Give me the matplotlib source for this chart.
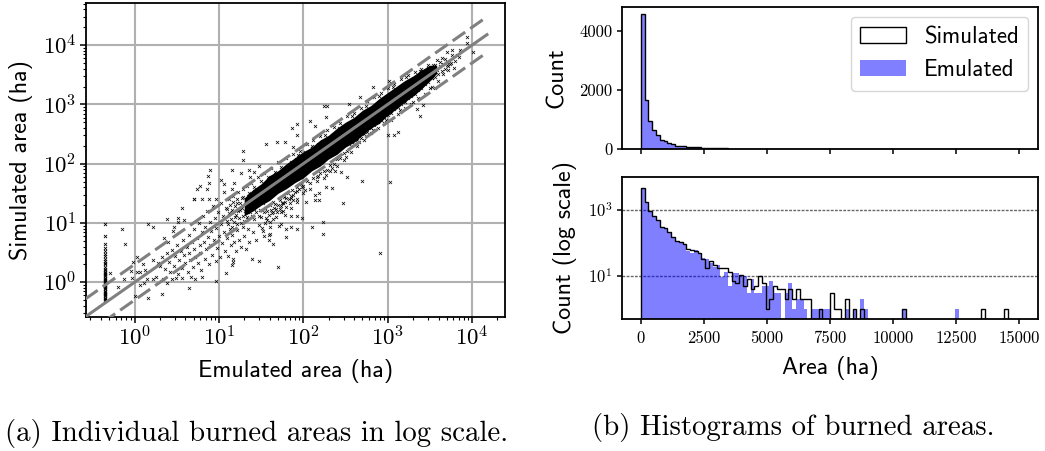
import numpy as np
import matplotlib
matplotlib.use("Agg")
import matplotlib.pyplot as plt
from matplotlib.ticker import LogLocator, NullFormatter, FixedLocator

plt.rcParams['mathtext.fontset'] = 'cm'
plt.rcParams['axes.unicode_minus'] = False

# ---- scatter: values, as log10(ha) pairs
outlier_pairs = [
 (3.03,1.69),(2.69,1.71),(2.52,1.77),(2.47,1.34),(2.91,.495),(1.70,.25),(2.23,1.01),(2.23,.82),(2.10,.93),(1.92,.89),
 (1.85,.93),(1.795,.89),(1.79,.77),(1.74,.98),(1.71,.945),(1.60,.93),(1.605,.81),(1.59,.79),(1.53,.78),(1.59,.71),
 (1.635,.65),(1.51,.92),(1.99,1.09),(2.03,1.36),(2.14,1.385),(2.19,1.385),(2.19,1.51),(2.14,1.47),(2.27,1.61),(2.34,1.59),
 (2.45,1.86),(2.38,1.88),(2.265,1.81),(1.93,1.36),(1.88,1.385),(1.86,1.26),(1.92,1.115),(1.86,1.115),(1.78,1.14),(1.76,1.33),
 (1.80,1.27),(1.73,1.19),(1.685,1.19),(1.625,1.16),(1.565,1.05),(1.645,1.06),(1.545,1.00),
 (4.007,3.89),(3.94,4.13),(3.935,4.03),(3.86,3.92),(3.765,3.92),(3.70,3.89),(3.82,3.83),(3.76,3.83),(3.70,3.665),
 (3.64,3.78),(3.58,3.75),(3.54,3.665),(3.48,3.665),(3.52,3.44),(3.50,3.27),(3.56,3.27),(3.42,2.99),(3.35,2.92),(3.38,2.80),
 (3.12,2.53),(3.07,2.49),(3.00,2.49),(3.02,3.395),(2.83,3.29),(2.67,3.13),(2.545,3.01),(2.28,2.97),(2.24,2.97),(2.27,2.78),
 (2.08,2.725),(2.14,2.635),(1.93,2.67),(1.87,2.60),(1.56,2.33),(1.685,2.37),(1.78,2.36),(1.88,2.285),(1.92,2.48),
 (1.28,2.22),(1.29,2.07),(1.15,1.90),(.90,1.90),(.875,1.80),(.88,1.68),(.78,1.63),(.74,1.57),(.86,1.58),(1.03,1.72),
 (1.06,1.65),(1.18,1.67),(1.06,1.53),(1.15,1.58),(1.26,1.84),(1.36,1.89),(1.37,1.78),(.705,1.40),(.80,1.40),(.88,1.40),
 (.97,1.41),(1.41,1.86),(1.47,1.96),
 (-.145,.89),(-.11,.64),(.155,.975),(.22,.925),(.38,1.06),(.51,1.02),(.52,1.09),(.59,1.05),(.56,1.26),(.71,1.40),
 (.47,.925),(.35,.75),(.46,.86),(.40,.68),(.03,.43),(-.015,.34),(.22,.38),(.10,.30),(.28,.32),(-.29,.16),
 (-.19,-.08),(-.13,.05),(-.04,.185),(-.026,.08),(.026,.165),(.065,.165),(.13,.20),(.145,.06),(.065,-.05),(.115,-.02),
 (.155,-.26),(0,-.24),(.32,-.20),(.64,-.09),(.22,.06),(.26,.09),(.34,.06),(.38,-.02),(.44,.06),(.49,.08),
 (.56,.08),(.665,.09),(.72,.06),(.80,.09),(.97,.02),(1.08,.15),(1.16,.29),(1.17,.34),(1.17,.40),(1.395,.40),(1.47,.36),
]
transition_pairs = [
 (.30,.28),(.33,.42),(.36,.22),(.38,.50),(.41,.35),(.42,.18),(.44,.55),(.47,.27),(.48,.44),(.50,.62),
 (.51,.14),(.53,.38),(.55,.52),(.56,.24),(.58,.72),(.59,.46),(.60,.33),(.62,.60),(.63,.18),(.64,.80),
 (.65,.50),(.66,.38),(.68,.68),(.69,.26),(.70,.90),(.71,.56),(.72,.42),(.74,.74),(.75,.32),(.76,1.00),
 (.77,.62),(.78,.50),(.79,.20),(.80,.84),(.81,1.12),(.82,.68),(.83,.40),(.84,.94),(.85,.56),(.86,1.20),
 (.87,.76),(.88,.30),(.89,1.02),(.90,.62),(.91,.86),(.92,.46),(.93,1.28),(.94,.72),(.95,1.08),(.96,.36),
 (.97,.92),(.98,.58),(.99,1.18),(1.00,.78),(1.01,.42),(1.02,1.34),(1.03,.98),(1.04,.66),(1.05,1.12),(1.06,.84),
 (1.07,.52),(1.08,1.26),(1.09,.74),(1.10,1.04),(1.11,.44),(1.12,1.40),(1.13,.90),(1.14,.62),(1.15,1.18),(1.16,.80),
 (1.17,1.46),(1.18,.68),(1.19,1.10),(1.20,.52),(1.21,1.34),(1.22,.88),(1.23,1.52),(1.24,.72),(1.25,1.22),(1.26,.60),
 (1.27,1.42),(1.28,.94),(1.29,1.58),(1.30,.78),(1.31,1.32),(1.32,.56),(1.33,1.62),(1.34,.90),(1.35,1.46),(1.36,.68),
 (1.38,1.68),(1.40,.84),(1.42,1.60),(1.44,.72),(1.46,1.78),(1.48,.96),(1.50,1.70),(1.52,.86),(1.54,1.84),(1.56,1.08),
 (1.58,1.78),(1.60,1.02),(1.62,1.92),(1.64,1.18),(1.66,1.86),(1.68,1.10),(1.70,2.02),(1.72,1.24),(1.74,1.94),(1.76,1.20),
]
fringe_pairs = [
 (1.80,2.10),(1.84,1.34),(1.88,2.16),(1.92,1.40),(1.96,2.22),(2.00,1.50),(2.04,2.34),(2.08,1.58),(2.12,2.40),(2.16,1.70),
 (2.20,2.46),(2.24,1.76),(2.28,2.56),(2.32,1.88),(2.36,2.62),(2.40,1.96),(2.44,2.68),(2.48,2.06),(2.52,2.80),(2.56,2.20),
 (2.60,2.86),(2.64,2.30),(2.68,2.94),(2.72,2.40),(2.76,3.06),(2.80,2.52),(2.84,3.12),(2.88,2.60),(2.92,3.20),(2.96,2.68),
 (3.00,3.28),(3.04,2.74),(3.08,3.34),(3.12,2.84),(3.16,3.42),(3.20,2.94),(3.24,3.50),(3.28,3.00),(3.32,3.54),(3.36,3.10),
 (3.40,3.60),(3.44,3.18),(3.48,3.62),(3.52,3.30),(3.56,3.66),(3.60,3.40),(3.62,3.72),(3.66,3.52),(3.68,3.76),(3.72,3.58),
 (3.75,3.70),(3.78,3.62),(3.80,3.74),(3.84,3.80),
 (1.86,1.42),(1.94,2.14),(2.02,1.56),(2.10,2.30),(2.18,1.80),(2.26,2.48),(2.34,1.92),(2.42,2.60),(2.50,2.12),(2.58,2.80),
 (2.66,2.36),(2.74,2.98),(2.82,2.56),(2.90,3.14),(2.98,2.74),(3.06,3.30),(3.14,2.90),(3.22,3.46),(3.30,3.04),(3.38,3.56),
]
# points thickening the inner edges of the cloud, where marks overlap but do not saturate
edge_pairs = [
 (1.10,1.24),(1.11,.98),(1.12,1.16),(1.13,1.30),(1.14,1.06),(1.15,.94),(1.16,1.22),(1.17,1.36),(1.18,1.02),(1.19,1.28),
 (1.20,1.14),(1.21,.98),(1.22,1.40),(1.23,1.20),(1.24,1.08),(1.25,1.34),(1.26,1.00),(1.27,1.26),(1.28,1.12),(1.29,1.44),
 (1.30,1.04),(1.31,1.20),(1.32,1.38),(1.33,1.10),(1.34,1.28),(1.35,1.06),(1.36,1.50),(1.37,1.18),(1.38,1.36),(1.39,1.12),
 (1.40,1.46),(1.41,1.24),(1.42,1.06),(1.43,1.40),(1.44,1.18),(1.45,1.56),(1.46,1.30),(1.47,1.12),(1.48,1.48),(1.49,1.22),
 (1.50,1.10),(1.51,1.60),(1.52,1.34),(1.53,1.18),(1.54,1.52),(1.55,1.26),(1.56,1.66),(1.57,1.20),(1.58,1.42),(1.59,1.14),
 (1.60,1.72),(1.61,1.30),(1.62,1.22),(1.63,1.68),(1.64,1.36),(1.65,1.26),(1.66,1.76),(1.67,1.32),(1.68,1.24),(1.69,1.70),
 (1.70,1.30),(1.71,1.84),(1.72,1.38),(1.73,1.28),(1.74,1.80),(1.75,1.34),(1.76,1.90),(1.77,1.44),(1.78,1.36),(1.79,1.86),
 (1.80,1.42),(1.81,1.96),(1.82,1.50),(1.83,1.40),(1.84,1.92),(1.85,1.46),(1.86,2.02),(1.87,1.56),(1.88,1.48),(1.89,1.98),
 (1.90,1.52),(1.91,2.08),(1.92,1.60),(1.93,1.54),(1.94,2.04),(1.95,1.58),(1.96,2.14),(1.97,1.66),(1.98,1.60),(1.99,2.10),
 (2.00,1.62),(2.02,2.20),(2.04,1.70),(2.06,2.16),(2.08,1.68),(2.10,2.26),(2.12,1.76),(2.14,2.22),(2.16,1.78),(2.18,2.34),
 (2.20,1.84),(2.22,2.30),(2.24,1.88),(2.26,2.40),(2.28,1.90),(2.30,2.38),(2.32,1.98),(2.34,2.48),(2.36,2.00),(2.38,2.44),
 (2.40,2.08),(2.42,2.54),(2.44,2.10),(2.46,2.52),(2.48,2.18),(2.50,2.62),(2.52,2.22),(2.54,2.60),(2.56,2.30),(2.58,2.70),
 (2.60,2.34),(2.62,2.68),(2.64,2.40),(2.66,2.78),(2.68,2.44),(2.70,2.76),(2.72,2.50),(2.74,2.86),(2.76,2.54),(2.78,2.84),
 (2.80,2.60),(2.82,2.94),(2.84,2.66),(2.86,2.92),(2.88,2.70),(2.90,3.02),(2.92,2.74),(2.94,3.00),(2.96,2.78),(2.98,3.10),
 (3.00,2.82),(3.02,3.08),(3.04,2.86),(3.06,3.18),(3.08,2.92),(3.10,3.16),(3.12,2.96),(3.14,3.26),(3.16,3.00),(3.18,3.24),
 (3.20,3.04),(3.22,3.34),(3.24,3.10),(3.26,3.32),(3.28,3.14),(3.30,3.42),(3.32,3.18),(3.34,3.40),(3.36,3.24),(3.38,3.48),
 (3.40,3.28),(3.42,3.46),(3.44,3.34),(3.46,3.54),(3.48,3.38),(3.50,3.52),(3.52,3.44),(3.54,3.60),(3.56,3.46),(3.58,3.58),
 (3.60,3.52),(3.62,3.64),(3.64,3.56),(3.66,3.68),(3.68,3.60),(3.70,3.72),(3.72,3.64),(3.74,3.68),
]
# the vertical column of fires with the smallest emulated area
column_x_log10 = -0.346
column_y_log10 = [-.30,-.28,-.26,-.24,-.22,-.20,-.18,-.16,-.14,-.12,-.10,-.08,-.06,-.04,-.02,0,.02,.04,.06,.08,.10,
                  .12,.14,.16,.18,.20,.23,.26,.30,.33,.36,.40,.44,.48,.53,.58,.64,.78,.975]
# saturated core of the cloud, drawn as an envelope (too dense to read as separate points)
core_x_log10 = [1.30,1.40,1.50,1.60,1.70,1.80,1.90,2.00,2.10,2.20,2.30,2.40,2.50,2.60,2.70,2.80,2.90,3.00,3.10,3.20,3.30,3.40,3.50,3.58]
core_lo_log10 = [1.12,1.20,1.30,1.38,1.50,1.58,1.68,1.76,1.88,1.96,2.08,2.16,2.28,2.36,2.48,2.60,2.68,2.82,2.92,3.04,3.14,3.26,3.40,3.52]
core_hi_log10 = [1.42,1.56,1.66,1.80,1.88,2.00,2.10,2.20,2.28,2.40,2.48,2.60,2.70,2.78,2.90,2.98,3.10,3.20,3.30,3.40,3.48,3.58,3.66,3.66]
reference_x = [0.26, 15000]

# ---- histograms: counts per 150 ha bin
bin_edges = list(range(0, 15150, 150))
simulated_counts = [4590,1680,950,630,480,310,275,210,155,117,110,93,64,61,57,51,32,17,28,22,17,18,17,13,7,6,11,5,8,4,5,10,6,1,
 2,5,4,4,2,4,2,4,2,2,2,0,0,1,0,0,3,1,1,0,2,0,1,0,1,0,0,0,0,0,0,0,0,0,0,1,0,0,0,0,0,0,0,0,0,0,0,0,0,0,0,0,0,0,0,0,1,0,0,0,0,0,1,0,0,0]
emulated_counts = [4550,1640,920,640,480,300,260,210,155,110,100,90,55,50,62,45,34,32,24,19,22,9,13,5,12,12,11,10,3,8,3,3,5,5,
 7,3,3,0,3,6,1,2,2,1,0,1,1,1,1,1,0,0,0,0,1,0,1,0,2,1,0,0,0,0,0,0,0,0,0,1,0,0,0,0,0,0,0,0,0,0,0,0,0,1,0,0,0,0,0,0,0,0,0,0,0,0,0,0,0,0]
bin_left = bin_edges[:-1]

W, H = 1045, 451
fig = plt.figure(figsize=(W/100, H/100), dpi=100)
def place(l, t, r, b):
    return fig.add_axes([l/W, 1-b/H, (r-l)/W, (b-t)/H])

LAB = 'cmss10'
RM = 'cmr10'
LABEL_SIZE = 17.3

# scatter panel
ax = place(86, 3, 505, 317)
ax.set_xscale('log'); ax.set_yscale('log')
ax.set_xlim(10**-0.575, 10**4.39); ax.set_ylim(10**-0.586, 10**4.71)
ax.grid(True, which='major', color='#b0b0b0', lw=1.5, zorder=0)
ax.set_axisbelow(True)
pts = np.array(outlier_pairs + transition_pairs + fringe_pairs + edge_pairs)
ax.scatter(10**pts[:, 0], 10**pts[:, 1], marker='x', s=5, c='k', lw=.5, zorder=2)
ax.scatter(np.full(len(column_y_log10), 10**column_x_log10), 10**np.array(column_y_log10),
           marker='x', s=5, c='k', lw=.6, zorder=2)
ax.fill_between(10**np.array(core_x_log10), 10**np.array(core_lo_log10), 10**np.array(core_hi_log10),
                color='k', lw=0, zorder=2)
rx = np.array(reference_x)
ax.plot(rx, rx, color='gray', lw=2.2, zorder=3)
ax.plot(rx, rx*2, color='gray', lw=2.2, ls=(0, (5, 2)), zorder=3)
ax.plot(rx, rx/2, color='gray', lw=2.2, ls=(0, (5, 2)), zorder=3)
ax.xaxis.set_major_locator(FixedLocator([1, 10, 100, 1000, 10000]))
ax.yaxis.set_major_locator(FixedLocator([1, 10, 100, 1000, 10000]))
ax.xaxis.set_major_formatter(plt.FuncFormatter(lambda v, p: r'$10^{%d}$' % round(np.log10(v))))
ax.yaxis.set_major_formatter(plt.FuncFormatter(lambda v, p: r'$10^{%d}$' % round(np.log10(v))))
for a in (ax.xaxis, ax.yaxis):
    a.set_minor_locator(LogLocator(base=10, subs=np.arange(2, 10), numticks=20))
    a.set_minor_formatter(NullFormatter())
ax.tick_params(which='major', length=4, width=1.1, labelsize=16.5, pad=3)
ax.tick_params(which='minor', length=2.2, width=.8)
ax.set_xlabel('Emulated area (ha)', family=LAB, fontsize=LABEL_SIZE, labelpad=6)
ax.set_ylabel('Simulated area (ha)', family=LAB, fontsize=LABEL_SIZE, labelpad=7)

# histogram panels
top = place(622, 7, 1038, 149)
bot = place(622, 177, 1038, 319)
for a in (top, bot):
    a.hist(bin_left, bins=bin_edges, weights=emulated_counts, histtype='stepfilled', color='blue', alpha=.5,
           label='Emulated', zorder=2)
    a.hist(bin_left, bins=bin_edges, weights=simulated_counts, histtype='step', color='k', lw=1.0,
           label='Simulated', zorder=3)
    a.set_xlim(-750, 15750)
    a.xaxis.set_major_locator(FixedLocator([0, 2500, 5000, 7500, 10000, 12500, 15000]))
    a.tick_params(length=3.5, width=1.1, labelsize=12)
top.set_ylim(0, 4820)
top.set_yticks([0, 2000, 4000])
top.set_yticklabels(['0', '2000', '4000'], family=RM, fontsize=12)
top.tick_params(labelbottom=False)
top.set_ylabel('Count', family=LAB, fontsize=LABEL_SIZE, labelpad=8)
h, l = top.get_legend_handles_labels()
order = [l.index('Simulated'), l.index('Emulated')]
leg = top.legend([h[i] for i in order], [l[i] for i in order], loc='upper right',
                 prop={'family': LAB, 'size': 16.5}, borderaxespad=.43, fancybox=True)

bot.set_yscale('log')
bot.set_ylim(0.5, 9800)
bot.yaxis.set_major_locator(FixedLocator([10, 1000]))
bot.yaxis.set_major_formatter(plt.FuncFormatter(lambda v, p: r'$10^{%d}$' % round(np.log10(v))))
bot.yaxis.set_minor_locator(FixedLocator([]))
bot.grid(True, axis='y', which='major', color='#666666', lw=1.0, ls='--', dashes=(2, 1), zorder=4)
bot.set_xticks([0, 2500, 5000, 7500, 10000, 12500, 15000])
bot.set_xticklabels(['0', '2500', '5000', '7500', '10000', '12500', '15000'], family=RM, fontsize=12)
bot.tick_params(axis='x', pad=5)
bot.set_xlabel('Area (ha)', family=LAB, fontsize=LABEL_SIZE, labelpad=7)
bot.set_ylabel('Count (log scale)', family=LAB, fontsize=LABEL_SIZE, labelpad=8)

for a in (ax, top, bot):
    for s in a.spines.values():
        s.set_linewidth(1.3)

fig.text(5/W, 1-433/H, '(a) Individual burned areas in log scale.', family=RM, fontsize=20.8, va='center', ha='left')
fig.text(592/W, 1-427/H, '(b) Histograms of burned areas.', family=RM, fontsize=20.8, va='center', ha='left')

fig.savefig('out.png', dpi=100)
